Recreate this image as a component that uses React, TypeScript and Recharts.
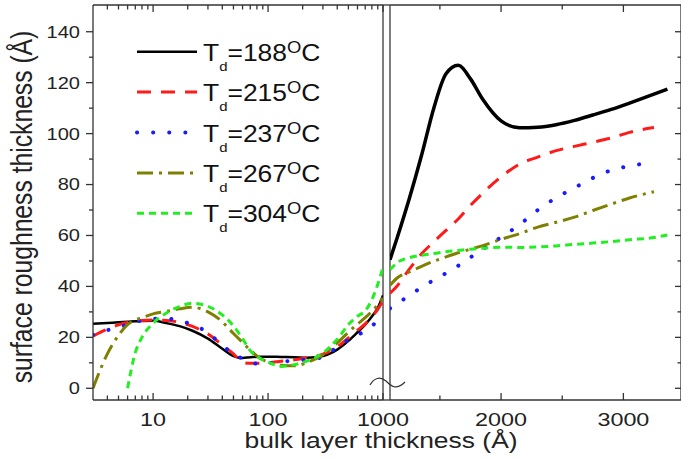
import { LineChart, Line, XAxis, YAxis, ReferenceLine } from "recharts";

// left panel: log x axis (Å)
const LOG_X = [3, 4, 5, 6, 7, 8, 10, 13, 17, 22, 30, 40, 50, 60, 70, 85, 100, 130, 170, 220, 300, 400, 500, 600, 700, 800, 900, 1000];
const LOG_T188 = [25.3, 25.6, 25.9, 26.1, 26.3, 26.4, 26.5, 25.6, 24.4, 22.6, 19.5, 15.5, 12.6, 11.9, 12.2, 12.4, 12.4, 12.3, 12.2, 12.0, 12.7, 15.2, 18.6, 22.0, 25.0, 28.2, 31.6, 36.5];
const LOG_T215 = [20.5, 23.2, 24.9, 25.8, 26.3, 26.6, 26.8, 26.6, 25.9, 24.3, 21.3, 17.0, 13.5, 10.2, 9.8, 9.8, 10.0, 10.6, 11.2, 12.0, 13.4, 16.3, 19.8, 22.8, 25.3, 28.2, 31.0, 34.5];
const LOG_T237 = [21.0, 22.8, 24.0, 25.0, 26.0, 26.7, 27.3, 27.4, 26.5, 25.0, 21.8, 16.8, 13.5, 11.6, 10.3, 9.5, 9.8, 10.4, 10.9, 11.3, 12.3, 16.3, 19.0, 21.0, 22.4, 24.5, 26.5, 29.0];
const LOG_T267 = [0, 13.5, 20.8, 25.0, 26.8, 27.7, 29.2, 30.2, 31.2, 31.8, 30.0, 26.1, 21.5, 18.0, 15.0, 11.8, 10.4, 9.0, 8.8, 10.2, 13.2, 17.8, 22.0, 25.2, 27.7, 30.2, 32.8, 35.5];
const LOG_T304 = [null, null, null, 0, 14.0, 20.0, 25.6, 29.5, 32.1, 33.4, 32.2, 28.8, 24.5, 19.5, 14.8, 11.8, 10.3, 8.6, 9.3, 10.8, 13.8, 19.3, 25.0, 28.3, 30.4, 34.8, 40.8, 47.5];

// right panel: linear x axis (Å)
const LIN_X = [1092, 1150, 1250, 1350, 1450, 1550, 1650, 1750, 1850, 2000, 2150, 2300, 2450, 2600, 2750, 2900, 3050, 3250, 3360];
const LIN_T188 = [50.5, 59, 74.5, 91.5, 110, 123.5, 126.8, 121.5, 113.5, 105, 102.3, 102.5, 103.5, 105.2, 107.3, 109.5, 112, 115.5, 117.5];
const LIN_T215 = [37.3, 40.2, 46.8, 52.8, 57.5, 62, 66.5, 71.8, 76.6, 83, 88, 90.8, 93.3, 95, 96.6, 98.3, 100.5, 102.4, null];
const LIN_T237 = [31.4, 33.2, 36.4, 39.6, 42.5, 45.2, 48.1, 51.4, 54.6, 59.3, 64.2, 70, 74.8, 78.7, 82.6, 85.6, 87.3, 88.6, null];
const LIN_T267 = [40.5, 43.3, 45.7, 47.9, 49.9, 51.6, 53.2, 54.6, 56, 58.5, 60.7, 63.3, 65.2, 67.2, 69.8, 72.3, 74.7, 77.2, null];
const LIN_T304 = [46.5, 49.3, 51.3, 52.2, 52.9, 53.6, 54.1, 54.6, 55, 55.4, 55.3, 55.5, 55.9, 56.5, 57, 57.6, 58.3, 59.2, 60.2];

const LOG_TICKS = [4, 5, 6, 7, 8, 9, 10, 20, 30, 40, 50, 60, 70, 80, 90, 100, 200, 300, 400, 500, 600, 700, 800, 900, 1000];
const LIN_TICKS = [1500, 2000, 2500, 3000];
const Y_TICKS = [0, 10, 20, 30, 40, 50, 60, 70, 80, 90, 100, 110, 120, 130, 140];
const TEMPS = ["188", "215", "237", "267", "304"];

const leftData = LOG_X.map((x, i) => ({
  x,
  t188: LOG_T188[i],
  t215: LOG_T215[i],
  t237: LOG_T237[i],
  t267: LOG_T267[i],
  t304: LOG_T304[i],
}));

const rightData = LIN_X.map((x, i) => ({
  x,
  t188: LIN_T188[i],
  t215: LIN_T215[i],
  t237: LIN_T237[i],
  t267: LIN_T267[i],
  t304: LIN_T304[i],
}));

const STYLES = [
  { key: "t188", color: "#000000", width: 2.5, dash: undefined, cap: "butt" },
  { key: "t215", color: "#ff1a1a", width: 3, dash: "14 10", cap: "butt" },
  { key: "t237", color: "#1a1aff", width: 4, dash: "0.1 16", cap: "round" },
  { key: "t267", color: "#808000", width: 3, dash: "16 6 3 6", cap: "butt" },
  { key: "t304", color: "#22ee22", width: 3, dash: "7 5", cap: "butt" },
];

const W = 681;
const H = 460;
const PLOT_TOP = 5;
const BREAK_L = 383;
const BREAK_R = 390;
const Y_DOMAIN = [-4.6, 150.5];
const AXIS = "#333";
const FONT = "'Liberation Sans', Arial, sans-serif";
const STRETCH = 1.23;

const LogTick = (props: any) => {
  const { x, y, payload } = props;
  const v = payload.value;
  const lg = Math.log10(v);
  const major = Math.abs(lg - Math.round(lg)) < 1e-9;
  const len = major ? 7 : 4.5;
  return (
    <g>
      <line x1={x} x2={x} y1={y} y2={y - len} stroke={AXIS} strokeWidth={1.3} />
      <line x1={x} x2={x} y1={PLOT_TOP} y2={PLOT_TOP + len} stroke={AXIS} strokeWidth={1.3} />
      {major && (
        <text transform={`translate(${x},${y + 25.5}) scale(${STRETCH},1)`} textAnchor="middle" fontSize={19} fill="#222" fontFamily={FONT}>
          {v}
        </text>
      )}
    </g>
  );
};

const LinTick = (props: any) => {
  const { x, y, payload } = props;
  const v = payload.value;
  const major = v % 1000 === 0;
  const len = major ? 7 : 4.5;
  return (
    <g>
      <line x1={x} x2={x} y1={y} y2={y - len} stroke={AXIS} strokeWidth={1.3} />
      <line x1={x} x2={x} y1={PLOT_TOP} y2={PLOT_TOP + len} stroke={AXIS} strokeWidth={1.3} />
      {major && (
        <text transform={`translate(${x},${y + 25.5}) scale(${STRETCH},1)`} textAnchor="middle" fontSize={19} fill="#222" fontFamily={FONT}>
          {v}
        </text>
      )}
    </g>
  );
};

const LeftYTick = (props: any) => {
  const { x, y, payload } = props;
  const v = payload.value;
  const major = v % 20 === 0;
  return (
    <g>
      <line x1={x} x2={x - (major ? 7 : 4)} y1={y} y2={y} stroke={AXIS} strokeWidth={1.3} />
      {major && (
        <text transform={`translate(${x - 13},${y + 5.9}) scale(${STRETCH},1)`} textAnchor="end" fontSize={16.3} fill="#222" fontFamily={FONT}>
          {v}
        </text>
      )}
    </g>
  );
};

const RightYTick = (props: any) => {
  const { x, y, payload } = props;
  const major = payload.value % 20 === 0;
  return <line x1={x} x2={x - (major ? 6 : 3.5)} y1={y} y2={y} stroke={AXIS} strokeWidth={1.3} />;
};

// the right-panel black trace is noisy in the original, so it reads thicker
function renderLines(blackWidth: number) {
  return STYLES.map((s) => (
    <Line
      key={s.key}
      type="monotone"
      dataKey={s.key}
      stroke={s.color}
      strokeWidth={s.key === "t188" ? blackWidth : s.width}
      strokeDasharray={s.dash}
      strokeLinecap={s.cap as any}
      dot={false}
      activeDot={false}
      isAnimationActive={false}
    />
  ));
}

export default function App() {
  return (
    <div style={{ position: "absolute", left: 0, top: 0, width: W, height: H, overflow: "hidden", background: "#fff", fontFamily: FONT }}>
      <div style={{ position: "absolute", left: 0, top: 0 }}>
        <LineChart width={W} height={H} data={leftData} margin={{ top: PLOT_TOP, right: W - BREAK_L, bottom: 0, left: 0 }}>
          <XAxis
            dataKey="x"
            type="number"
            scale="log"
            domain={[3, 1000]}
            allowDataOverflow
            ticks={LOG_TICKS}
            interval={0}
            height={60}
            tickSize={0}
            tickMargin={0}
            tickLine={false}
            axisLine={{ stroke: AXIS, strokeWidth: 1.3 }}
            tick={LogTick}
          />
          <YAxis
            type="number"
            domain={Y_DOMAIN}
            allowDataOverflow
            ticks={Y_TICKS}
            interval={0}
            width={93}
            tickSize={0}
            tickMargin={0}
            tickLine={false}
            axisLine={{ stroke: AXIS, strokeWidth: 1.3 }}
            tick={LeftYTick}
          />
          <ReferenceLine y={Y_DOMAIN[1]} stroke={AXIS} strokeWidth={1.3} />
          <ReferenceLine x={1000} stroke="#555" strokeWidth={1.5} />
          {renderLines(2.5)}
        </LineChart>
      </div>
      <div style={{ position: "absolute", left: 0, top: 0 }}>
        <LineChart width={W + 10} height={H} data={rightData} margin={{ top: PLOT_TOP, right: 0, bottom: 0, left: BREAK_R }}>
          <XAxis
            dataKey="x"
            type="number"
            domain={[1092, 3471]}
            allowDataOverflow
            ticks={LIN_TICKS}
            interval={0}
            height={60}
            tickSize={0}
            tickMargin={0}
            tickLine={false}
            axisLine={{ stroke: AXIS, strokeWidth: 1.3 }}
            tick={LinTick}
          />
          <YAxis
            type="number"
            orientation="right"
            domain={Y_DOMAIN}
            allowDataOverflow
            ticks={Y_TICKS}
            interval={0}
            width={10}
            tickSize={0}
            tickMargin={0}
            tickLine={false}
            axisLine={{ stroke: AXIS, strokeWidth: 1.3 }}
            tick={RightYTick}
          />
          <ReferenceLine y={Y_DOMAIN[1]} stroke={AXIS} strokeWidth={1.3} />
          <ReferenceLine x={1092} stroke="#555" strokeWidth={1.5} />
          {renderLines(3.5)}
        </LineChart>
      </div>
      <svg width={W} height={H} style={{ position: "absolute", left: 0, top: 0, pointerEvents: "none" }}>
        <line x1={BREAK_L} x2={BREAK_R} y1={400} y2={400} stroke={AXIS} strokeWidth={1.3} />
        <line x1={BREAK_L} x2={BREAK_R} y1={PLOT_TOP} y2={PLOT_TOP} stroke={AXIS} strokeWidth={1.3} />
        <path d="M370,385 C374,378 380,376 386,381 C391,386 396,391 405,382" fill="none" stroke="#333" strokeWidth={1.2} />
        <text transform={`translate(381,448) scale(${STRETCH},1)`} textAnchor="middle" fontSize={21.5} fill="#222" fontFamily={FONT}>
          bulk layer thickness (Å)
        </text>
        <text transform={`translate(31.5,207) rotate(-90) scale(1,${STRETCH})`} textAnchor="middle" fontSize={24.7} fill="#222" fontFamily={FONT}>
          surface roughness thickness (Å)
        </text>
        {STYLES.map((s, i) => {
          const ly = 51.7 + 40.4 * i;
          return (
            <g key={s.key}>
              <line x1={137} x2={197} y1={ly} y2={ly} stroke={s.color} strokeWidth={s.width} strokeDasharray={s.dash} strokeLinecap={s.cap as any} />
              <text transform={`translate(203,${ly + 9}) scale(1.15,1)`} fontSize={23} fill="#111" fontFamily={FONT}>
                T
                <tspan fontSize={13} dy={10}>d</tspan>
                <tspan dy={-10}>={TEMPS[i]}</tspan>
                <tspan fontSize={16} dy={-8}>O</tspan>
                <tspan dy={8}>C</tspan>
              </text>
            </g>
          );
        })}
      </svg>
    </div>
  );
}
